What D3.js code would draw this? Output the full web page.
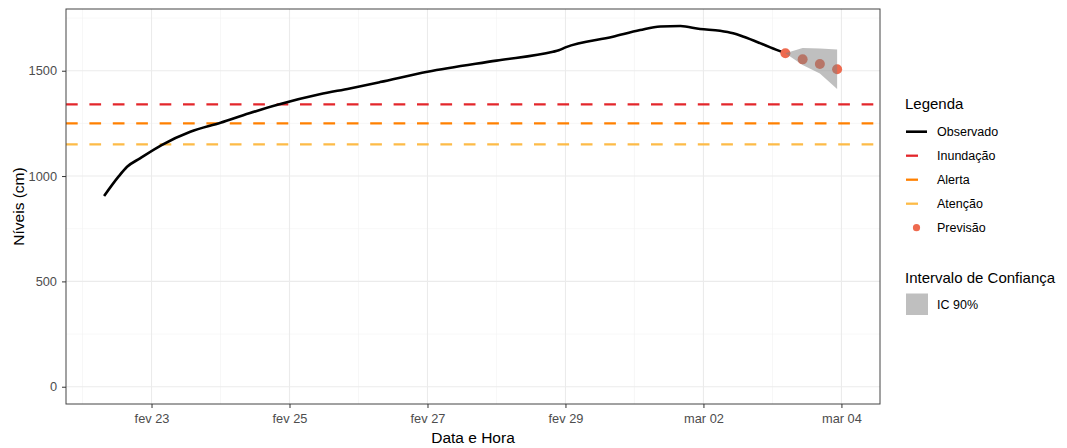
<!DOCTYPE html>
<html>
<head>
<meta charset="utf-8">
<script src="https://cdn.jsdelivr.net/npm/d3@7"></script>
<style>
  body { margin: 0; background: #fff; }
  text { font-family: "Liberation Sans", Arial, sans-serif; }
</style>
</head>
<body>
<svg id="chart"></svg>
<script>
// observed levels (cm)
var obsTimes = ["2024-02-22 07:30","2024-02-22 12:30","2024-02-22 15:30",
    "2024-02-22 20:00","2024-02-23 03:30","2024-02-23 13:30","2024-02-24 00:00","2024-02-24 10:00",
    "2024-02-24 20:30","2024-02-25 10:30","2024-02-25 21:00","2024-02-26 07:30","2024-02-27 00:00",
    "2024-02-28 00:00","2024-02-28 19:40","2024-02-28 21:40","2024-02-29 00:00","2024-02-29 16:30",
    "2024-03-01 02:00","2024-03-01 09:00","2024-03-01 16:00","2024-03-01 22:50","2024-03-02 05:45",
    "2024-03-02 10:20","2024-03-02 14:00","2024-03-02 19:40","2024-03-02 23:15","2024-03-03 04:30"];
var obsValues = [905, 997, 1044, 1084, 1147, 1210, 1253, 1298, 1341, 1388, 1416, 1446, 1495,
    1548, 1590, 1597, 1611, 1661, 1693, 1710, 1712, 1698, 1690, 1678, 1661, 1631, 1611, 1583];

// forecast and 90% interval
var prevTimes = ["2024-03-03 04:30","2024-03-03 10:30","2024-03-03 16:30","2024-03-03 22:30"];
var prevValues = [1583, 1554, 1532, 1507];
var icLower = [1583, 1527, 1487, 1413];
var icUpper = [1583, 1608, 1606, 1601];

// reference levels
var levelNames = ["Inundação", "Alerta", "Atenção"];
var levelValues = [1340, 1250, 1150];
var levelColors = ["#E3262B", "#FF8000", "#FDBB47"];

var xDomain = ["2024-02-21 18:15", "2024-03-04 13:25"];
var xTicks = ["2024-02-23 00:00","2024-02-25 00:00","2024-02-27 00:00","2024-02-29 00:00","2024-03-02 00:00","2024-03-04 00:00"];
var xTickLabels = ["fev 23", "fev 25", "fev 27", "fev 29", "mar 02", "mar 04"];
var yTicks = [0, 500, 1000, 1500];
var yMinor = [250, 750, 1250, 1750];

var W = 1067, H = 448;
var margin = {top: 9, right: 187, bottom: 44, left: 66};
var width = W - margin.left - margin.right,
    height = H - margin.top - margin.bottom;

var parse = d3.timeParse("%Y-%m-%d %H:%M");

var svg = d3.select("#chart").attr("width", W).attr("height", H);
var g = svg.append("g").attr("transform", "translate(" + margin.left + "," + margin.top + ")");

var x = d3.scaleTime().domain(xDomain.map(parse)).range([0, width]);
var y = d3.scaleLinear().domain([-82, 1793]).range([height, 0]);

// grid
var majorX = xTicks.map(parse);
var minorX = d3.timeDay.range(x.domain()[0], x.domain()[1]).filter(function(d) {
    return !majorX.some(function(m) { return +m == +d; });
});
g.selectAll(".gminx").data(minorX).enter().append("line")
    .attr("x1", function(d) { return x(d); }).attr("x2", function(d) { return x(d); })
    .attr("y1", 0).attr("y2", height)
    .attr("stroke", "#F2F2F2").attr("stroke-width", 0.6);
g.selectAll(".gminy").data(yMinor).enter().append("line")
    .attr("x1", 0).attr("x2", width)
    .attr("y1", function(d) { return y(d); }).attr("y2", function(d) { return y(d); })
    .attr("stroke", "#F2F2F2").attr("stroke-width", 0.6);
g.selectAll(".gmajx").data(majorX).enter().append("line")
    .attr("x1", function(d) { return x(d); }).attr("x2", function(d) { return x(d); })
    .attr("y1", 0).attr("y2", height)
    .attr("stroke", "#EBEBEB").attr("stroke-width", 1.1);
g.selectAll(".gmajy").data(yTicks).enter().append("line")
    .attr("x1", 0).attr("x2", width)
    .attr("y1", function(d) { return y(d); }).attr("y2", function(d) { return y(d); })
    .attr("stroke", "#EBEBEB").attr("stroke-width", 1.1);

// reference levels
g.selectAll(".level").data(levelValues).enter().append("line")
    .attr("x1", 0).attr("x2", width)
    .attr("y1", function(d) { return y(d); }).attr("y2", function(d) { return y(d); })
    .attr("stroke", function(d, i) { return levelColors[i]; })
    .attr("stroke-width", 2.3)
    .attr("stroke-dasharray", "11.7,11.7");

// observed
var obs = obsTimes.map(function(t, i) { return {t: parse(t), v: obsValues[i]}; });
g.append("path")
    .datum(obs)
    .attr("fill", "none")
    .attr("stroke", "#000")
    .attr("stroke-width", 2.6)
    .attr("stroke-linejoin", "round")
    .attr("d", d3.line().curve(d3.curveMonotoneX)
        .x(function(d) { return x(d.t); })
        .y(function(d) { return y(d.v); }));

// forecast points
var prev = prevTimes.map(function(t, i) {
    return {t: parse(t), v: prevValues[i], lo: icLower[i], hi: icUpper[i]};
});
g.selectAll(".prev").data(prev).enter().append("circle")
    .attr("cx", function(d) { return x(d.t); })
    .attr("cy", function(d) { return y(d.v); })
    .attr("r", 5)
    .attr("fill", "#EE6A4F");

// interval band on top
g.append("path")
    .datum(prev)
    .attr("fill", "#7F7F7F")
    .attr("opacity", 0.5)
    .attr("d", d3.area()
        .x(function(d) { return x(d.t); })
        .y0(function(d) { return y(d.lo); })
        .y1(function(d) { return y(d.hi); }));

// panel border
g.append("rect")
    .attr("x", 0).attr("y", 0).attr("width", width).attr("height", height)
    .attr("fill", "none").attr("stroke", "#444").attr("stroke-width", 1);

// axes
var xAxis = g.append("g")
    .attr("transform", "translate(0," + height + ")")
    .call(d3.axisBottom(x).tickValues(majorX)
        .tickFormat(function(d, i) { return xTickLabels[i]; })
        .tickSize(4).tickPadding(6));
var yAxis = g.append("g")
    .call(d3.axisLeft(y).tickValues(yTicks).tickFormat(d3.format("d")).tickSize(4).tickPadding(5));
[xAxis, yAxis].forEach(function(a) {
    a.select(".domain").remove();
    a.selectAll(".tick line").attr("stroke", "#333");
    a.selectAll(".tick text").attr("fill", "#4D4D4D")
        .style("font-size", "12.8px").style("font-family", "'Liberation Sans', Arial, sans-serif");
});

svg.append("text")
    .attr("x", margin.left + width / 2).attr("y", 443)
    .attr("text-anchor", "middle")
    .style("font-size", "15.5px")
    .text("Data e Hora");
svg.append("text")
    .attr("transform", "translate(24," + (margin.top + height / 2) + ") rotate(-90)")
    .attr("text-anchor", "middle")
    .style("font-size", "15.5px")
    .text("Níveis (cm)");

// legend
var lg = svg.append("g").attr("transform", "translate(905,0)");
lg.append("text").attr("x", 0).attr("y", 109).style("font-size", "15px").text("Legenda");
var keys = [
    {name: "Observado", type: "solid", color: "#000"},
    {name: levelNames[0], type: "dash", color: levelColors[0]},
    {name: levelNames[1], type: "dash", color: levelColors[1]},
    {name: levelNames[2], type: "dash", color: levelColors[2]},
    {name: "Previsão", type: "point", color: "#EE6A4F"}
];
keys.forEach(function(k, i) {
    var cy = 131.7 + i * 24;
    if (k.type == "point") {
        lg.append("circle").attr("cx", 11.5).attr("cy", cy).attr("r", 3.6).attr("fill", k.color);
    } else {
        lg.append("line").attr("x1", 1).attr("x2", k.type == "solid" ? 22 : 13)
            .attr("y1", cy).attr("y2", cy)
            .attr("stroke", k.color).attr("stroke-width", k.type == "solid" ? 2.6 : 2.3);
    }
    lg.append("text").attr("x", 32).attr("y", cy).attr("dy", "0.35em")
        .style("font-size", "12.5px").text(k.name);
});
lg.append("text").attr("x", 0).attr("y", 283).style("font-size", "15px").text("Intervalo de Confiança");
lg.append("rect").attr("x", 1).attr("y", 293.5).attr("width", 22).attr("height", 21.5)
    .attr("fill", "#7F7F7F").attr("opacity", 0.5);
lg.append("text").attr("x", 32).attr("y", 305).attr("dy", "0.35em")
    .style("font-size", "12.5px").text("IC 90%");
</script>
</body>
</html>
